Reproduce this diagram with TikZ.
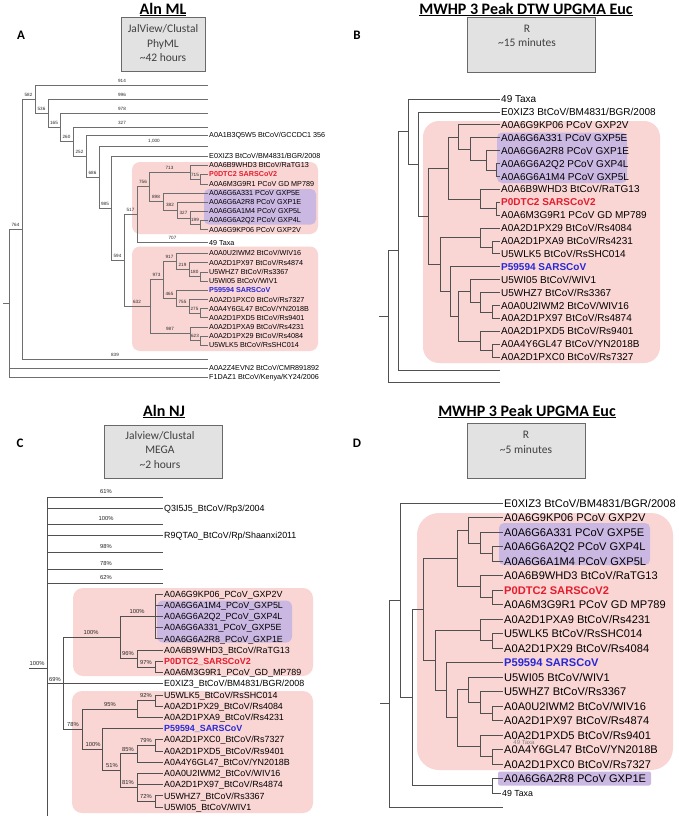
\documentclass[tikz,border=0pt]{standalone}
\usepackage{fontspec}
\setmainfont{Liberation Sans}
\newfontfamily\calib{Carlito}
\definecolor{pinkbg}{RGB}{249,214,212}
\definecolor{purplebg}{RGB}{203,184,226}
\definecolor{sarsred}{RGB}{228,28,45}
\definecolor{sarsblue}{RGB}{40,40,215}
\definecolor{boxfill}{RGB}{226,226,226}
\definecolor{boxdraw}{RGB}{105,105,105}
\definecolor{boxtext}{RGB}{64,64,64}
\definecolor{brlight}{RGB}{110,110,110}
\definecolor{brdark}{RGB}{80,80,80}
\tikzset{
  ttl/.style={font=\calib\bfseries\fontsize{16}{18}\selectfont, inner sep=0pt, text depth=0pt},
  infobox/.style={draw=boxdraw, fill=boxfill, line width=0.8pt},
  boxtxt/.style={font=\calib\fontsize{11.5}{14.5}\selectfont, text=boxtext, align=center, inner sep=0pt},
  plet/.style={font=\calib\bfseries\fontsize{13}{15}\selectfont, inner sep=0pt},
  leafA/.style={anchor=west, inner xsep=1pt, inner ysep=0.3pt, text height=5.2pt, text depth=0pt, font=\fontsize{7.2}{8}\selectfont},
  leafB/.style={anchor=west, inner xsep=1pt, inner ysep=0.3pt, text height=7.2pt, text depth=0pt, font=\fontsize{10}{11}\selectfont},
  leafC/.style={anchor=west, inner xsep=1pt, inner ysep=0.3pt, text height=6.4pt, text depth=0pt, font=\fontsize{8.9}{10}\selectfont},
  leafD/.style={anchor=west, inner xsep=1pt, inner ysep=0.3pt, text height=8pt, text depth=0pt, font=\fontsize{11.1}{12}\selectfont},
  redt/.style={text=sarsred},
  bluet/.style={text=sarsblue},
  bsA/.style={font=\fontsize{4.6}{5}\selectfont, inner sep=0pt, text=black!85},
  bsC/.style={font=\fontsize{5.8}{6}\selectfont, inner sep=0pt, text=black!85},
  brA/.style={draw=brlight, line width=0.55pt},
  brB/.style={draw=brdark, line width=0.75pt},
  brC/.style={draw=brdark, line width=0.7pt},
  pinkbox/.style={fill=pinkbg, draw=none},
  purplebox/.style={fill=purplebg, draw=none},
}
\begin{document}
\begin{tikzpicture}[x=1pt,y=-1pt]
\useasboundingbox (0,0) rectangle (679,819);
\fill[white] (0,0) rectangle (679,819);

% ================= headers =================
\node[ttl] (tA) at (163,8.5) {Aln ML};
\draw[line width=1.1pt] ([yshift=-1.8pt]tA.base west) -- ([yshift=-1.8pt]tA.base east);
\node[ttl] (tB) at (526,8.5) {MWHP 3 Peak DTW UPGMA Euc};
\draw[line width=1.1pt] ([yshift=-1.8pt]tB.base west) -- ([yshift=-1.8pt]tB.base east);
\node[ttl] (tC) at (164,410.5) {Aln NJ};
\draw[line width=1.1pt] ([yshift=-1.8pt]tC.base west) -- ([yshift=-1.8pt]tC.base east);
\node[ttl] (tD) at (527,410.5) {MWHP 3 Peak UPGMA Euc};
\draw[line width=1.1pt] ([yshift=-1.8pt]tD.base west) -- ([yshift=-1.8pt]tD.base east);

\draw[infobox] (121,17) rectangle (205,71);
\node[boxtxt] (xA) at (163,43.5) {JalView/Clustal\\PhyML\\\textasciitilde42 hours};
\draw[infobox] (467,17) rectangle (595,72);
\node[boxtxt] (xB) at (527,36) {R\\\textasciitilde15 minutes};
\draw[infobox] (104,425) rectangle (222,478);
\node[boxtxt] (xC) at (160,450) {Jalview/Clustal\\MEGA\\\textasciitilde2 hours};
\draw[infobox] (467,423) rectangle (585,478);
\node[boxtxt] (xD) at (526,442.5) {R\\\textasciitilde5 minutes};

\node[plet] (pA) at (21,35) {A};
\node[plet] (pB) at (357,35) {B};
\node[plet] (pC) at (20,443) {C};
\node[plet] (pD) at (357,443) {D};

% ================= highlight boxes =================
\fill[pinkbox, rounded corners=8pt] (132,162) rectangle (318,234);
\fill[purplebox, rounded corners=5pt] (204,189) rectangle (316,224.5);
\fill[pinkbox, rounded corners=8pt] (132,246.5) rectangle (318,351);
\fill[pinkbox, rounded corners=16pt] (423,121) rectangle (660,363);
\fill[purplebox, rounded corners=5pt] (497,132.5) rectangle (627,183);
\fill[pinkbox, rounded corners=10pt] (73,588) rectangle (313,676);
\fill[purplebox, rounded corners=6pt] (157,600.5) rectangle (292,642.5);
\fill[pinkbox, rounded corners=10pt] (72,691) rectangle (313,813);
\fill[pinkbox, rounded corners=22pt] (417,513) rectangle (673,770);
\fill[purplebox, rounded corners=5pt] (499,523) rectangle (650,565);
\fill[purplebox, rounded corners=2pt] (498,771.5) rectangle (651,785.5);

% ================= Panel A =================
\coordinate (a914) at (208,85);
\coordinate (a996) at (208,99);
\coordinate (a978) at (208,113);
\coordinate (a327) at (208,127);
\node[leafA] (aGCC) at (208,135) {A0A1B3Q5W5 BtCoV/GCCDC1 356};
\coordinate (a1000) at (208,146);
\node[leafA] (aE0) at (208,156) {E0XIZ3 BtCoV/BM4831/BGR/2008};
\node[leafA] (aWHD3) at (208,165) {A0A6B9WHD3 BtCoV/RaTG13};
\node[leafA,redt] (aP0) at (208,174) {\textbf{P0DTC2 SARSCoV2}};
\node[leafA] (aM3) at (208,184) {A0A6M3G9R1 PCoV GD MP789};
\node[leafA] (aA331) at (208,193) {A0A6G6A331 PCoV GXP5E};
\node[leafA] (aA2R8) at (208,202) {A0A6G6A2R8 PCoV GXP1E};
\node[leafA] (aA1M4) at (208,211) {A0A6G6A1M4 PCoV GXP5L};
\node[leafA] (aA2Q2) at (208,220) {A0A6G6A2Q2 PCoV GXP4L};
\node[leafA] (aKP06) at (208,229.5) {A0A6G9KP06 PCoV GXP2V};
\node[leafA] (a49) at (208,242.5) {49 Taxa};
\node[leafA] (aIWM2) at (208,253) {A0A0U2IWM2 BtCoV/WIV16};
\node[leafA] (aPX97) at (208,262.5) {A0A2D1PX97 BtCoV/Rs4874};
\node[leafA] (aHZ7) at (208,272) {U5WHZ7 BtCoV/Rs3367};
\node[leafA] (aWI05) at (208,281) {U5WI05 BtCoV/WIV1};
\node[leafA,bluet] (aP59) at (208,290) {\textbf{P59594 SARSCoV}};
\node[leafA] (aPXC0) at (208,299.5) {A0A2D1PXC0 BtCoV/Rs7327};
\node[leafA] (aGL47) at (208,308.5) {A0A4Y6GL47 BtCoV/YN2018B};
\node[leafA] (aPXD5) at (208,317.5) {A0A2D1PXD5 BtCoV/Rs9401};
\node[leafA] (aPXA9) at (208,327) {A0A2D1PXA9 BtCoV/Rs4231};
\node[leafA] (aPX29) at (208,336) {A0A2D1PX29 BtCoV/Rs4084};
\node[leafA] (aWLK5) at (208,345) {U5WLK5 BtCoV/RsSHC014};
\coordinate (a839) at (208,359);
\node[leafA] (aEVN2) at (208,368) {A0A2Z4EVN2 BtCoV/CMR891892};
\node[leafA] (aF1) at (208,377) {F1DAZ1 BtCoV/Kenya/KY24/2006};

\coordinate (atick) at (3,303);
\coordinate (aroot) at (9,303);
\coordinate (a764) at (22,229);
\coordinate (a582) at (35,99.1);
\coordinate (a536) at (48,113.1);
\coordinate (a165) at (60,127.3);
\coordinate (a260) at (73,141.5);
\coordinate (a252) at (86,156.1);
\coordinate (a686) at (99,177.2);
\coordinate (a985) at (111,208.3);
\coordinate (a594) at (124,260.6);
\coordinate (a517) at (137,214.6);
\coordinate (a756) at (149,186.7);
\coordinate (a713) at (190,172);
\coordinate (a715) at (200,179);
\coordinate (a898) at (163,201.5);
\coordinate (a382) at (177,209.9);
\coordinate (a327n) at (190,217.9);
\coordinate (a199) at (200,224.75);
\coordinate (a632) at (150,306.7);
\coordinate (a973) at (163,279.7);
\coordinate (a917) at (176,261.2);
\coordinate (a219) at (189,269.5);
\coordinate (a180) at (200,276.5);
\coordinate (a465) at (176,298.1);
\coordinate (a755) at (189,306.2);
\coordinate (a275) at (200,313);
\coordinate (a987) at (190,333.7);
\coordinate (a623) at (200,340.5);

\draw[brA] (atick) -- (aroot);
\foreach \p/\c in {aroot/a764, aroot/aEVN2.west, aroot/aF1.west,
  a764/a582, a764/a839, a582/a914, a582/a536, a536/a996, a536/a165,
  a165/a978, a165/a260, a260/a327, a260/a252, a252/aGCC.west, a252/a686,
  a686/a1000, a686/a985, a985/aE0.west, a985/a594, a594/a517, a594/a632,
  a517/a756, a517/a49.west, a756/a713, a756/a898, a713/aWHD3.west, a713/a715,
  a715/aP0.west, a715/aM3.west, a898/aA331.west, a898/a382,
  a382/aA2R8.west, a382/a327n, a327n/aA1M4.west, a327n/a199,
  a199/aA2Q2.west, a199/aKP06.west, a632/a973, a632/a987,
  a973/a917, a973/a465, a917/aIWM2.west, a917/a219, a219/aPX97.west, a219/a180,
  a180/aHZ7.west, a180/aWI05.west, a465/aP59.west, a465/a755,
  a755/aPXC0.west, a755/a275, a275/aGL47.west, a275/aPXD5.west,
  a987/aPXA9.west, a987/a623, a623/aPX29.west, a623/aWLK5.west}
  \draw[brA] (\p) |- (\c);

\node[bsA] (l914) at (122,80.5) {914};
\node[bsA] (l996) at (122,94.5) {996};
\node[bsA] (l978) at (122,108.5) {978};
\node[bsA] (l327) at (122,122.5) {327};
\node[bsA] (l1000) at (154,141.5) {1,000};
\node[bsA] (l582) at (28.5,94.6) {582};
\node[bsA] (l536) at (41.5,108.6) {536};
\node[bsA] (l165) at (54,122.8) {165};
\node[bsA] (l260) at (66.5,137) {260};
\node[bsA] (l252) at (79.5,151.6) {252};
\node[bsA] (l686) at (92.5,172.7) {686};
\node[bsA] (l985) at (105,203.8) {985};
\node[bsA] (l594) at (117.5,256.1) {594};
\node[bsA] (l517) at (130.5,210.1) {517};
\node[bsA] (l756) at (143,182.2) {756};
\node[bsA] (l713) at (169.5,167.5) {713};
\node[bsA] (l715) at (195,174.5) {715};
\node[bsA] (l898) at (156,197) {898};
\node[bsA] (l382) at (170,205.4) {382};
\node[bsA] (l327b) at (183.5,213.4) {327};
\node[bsA] (l199) at (195,220.25) {199};
\node[bsA] (l707) at (172.5,238) {707};
\node[bsA] (l632) at (137,302.2) {632};
\node[bsA] (l973) at (156.5,275.2) {973};
\node[bsA] (l917) at (169.5,256.7) {917};
\node[bsA] (l219) at (182.5,265) {219};
\node[bsA] (l180) at (194.5,272) {180};
\node[bsA] (l465) at (169.5,293.6) {465};
\node[bsA] (l755) at (182.5,301.7) {755};
\node[bsA] (l275) at (194.5,308.5) {275};
\node[bsA] (l987) at (170,329.2) {987};
\node[bsA] (l623) at (195,336) {623};
\node[bsA] (l839) at (115,354.5) {839};
\node[bsA] (l764) at (15.5,224.5) {764};

% ================= Panel B =================
\node[leafB] (b49) at (500,99) {49 Taxa};
\node[leafB] (bE0) at (500,111.9) {E0XIZ3 BtCoV/BM4831/BGR/2008};
\node[leafB] (bKP06) at (500,124.8) {A0A6G9KP06 PCoV GXP2V};
\node[leafB] (bA331) at (500,137.7) {A0A6G6A331 PCoV GXP5E};
\node[leafB] (bA2R8) at (500,150.6) {A0A6G6A2R8 PCoV GXP1E};
\node[leafB] (bA2Q2) at (500,163.5) {A0A6G6A2Q2 PCoV GXP4L};
\node[leafB] (bA1M4) at (500,176.4) {A0A6G6A1M4 PCoV GXP5L};
\node[leafB] (bWHD3) at (500,189.3) {A0A6B9WHD3 BtCoV/RaTG13};
\node[leafB,redt] (bP0) at (500,202.2) {\textbf{P0DTC2 SARSCoV2}};
\node[leafB] (bM3) at (500,215.1) {A0A6M3G9R1 PCoV GD MP789};
\node[leafB] (bPX29) at (500,228) {A0A2D1PX29 BtCoV/Rs4084};
\node[leafB] (bPXA9) at (500,240.9) {A0A2D1PXA9 BtCoV/Rs4231};
\node[leafB] (bWLK5) at (500,253.8) {U5WLK5 BtCoV/RsSHC014};
\node[leafB,bluet] (bP59) at (500,266.7) {\textbf{P59594 SARSCoV}};
\node[leafB] (bWI05) at (500,279.6) {U5WI05 BtCoV/WIV1};
\node[leafB] (bHZ7) at (500,292.5) {U5WHZ7 BtCoV/Rs3367};
\node[leafB] (bIWM2) at (500,305.4) {A0A0U2IWM2 BtCoV/WIV16};
\node[leafB] (bPX97) at (500,318.3) {A0A2D1PX97 BtCoV/Rs4874};
\node[leafB] (bPXD5) at (500,331.2) {A0A2D1PXD5 BtCoV/Rs9401};
\node[leafB] (bGL47) at (500,344.1) {A0A4Y6GL47 BtCoV/YN2018B};
\node[leafB] (bPXC0) at (500,357) {A0A2D1PXC0 BtCoV/Rs7327};
\coordinate (bx1) at (500,369.9);
\coordinate (bx2) at (500,382.8);

\coordinate (btick) at (379,316.8);
\coordinate (broot) at (388,316.8);
\coordinate (bn398) at (398,250.8);
\coordinate (bn408) at (408,131.6);
\coordinate (bn418) at (418,164.1);
\coordinate (bn428) at (428,216.3);
\coordinate (bn448) at (448,168.0);
\coordinate (bc4) at (458,136.9);
\coordinate (bc3) at (470,149.0);
\coordinate (bc2) at (486,160.3);
\coordinate (bc1) at (496,170.0);
\coordinate (bc6) at (480,199.0);
\coordinate (bc5) at (496,208.7);
\coordinate (bh) at (440,264.5);
\coordinate (bd2) at (480,237.7);
\coordinate (bd1) at (492,247.4);
\coordinate (bg) at (450,291.3);
\coordinate (be4) at (458,315.9);
\coordinate (be3) at (470,290.9);
\coordinate (be2) at (480,302.2);
\coordinate (be1) at (492,311.9);
\coordinate (bf2) at (480,340.9);
\coordinate (bf1) at (492,350.6);

\draw[brB] (btick) -- (broot);
\foreach \p/\c in {broot/bn398, broot/bx2, bn398/bn408, bn398/bx1,
  bn408/b49.west, bn408/bn418, bn418/bE0.west, bn418/bn428,
  bn428/bn448, bn428/bh, bn448/bc4, bn448/bc6,
  bc4/bKP06.west, bc4/bc3, bc3/bA331.west, bc3/bc2, bc2/bA2R8.west, bc2/bc1,
  bc1/bA2Q2.west, bc1/bA1M4.west, bc6/bWHD3.west, bc6/bc5, bc5/bP0.west, bc5/bM3.west,
  bh/bd2, bh/bg, bd2/bPX29.west, bd2/bd1, bd1/bPXA9.west, bd1/bWLK5.west,
  bg/bP59.west, bg/be4, be4/be3, be4/bf2, be3/bWI05.west, be3/be2,
  be2/bHZ7.west, be2/be1, be1/bIWM2.west, be1/bPX97.west,
  bf2/bPXD5.west, bf2/bf1, bf1/bGL47.west, bf1/bPXC0.west}
  \draw[brB] (\p) |- (\c);

% ================= Panel C =================
\coordinate (c61) at (163,497);
\node[leafC] (cQ3) at (163,508) {Q3I5J5\_BtCoV/Rp3/2004};
\coordinate (c100t) at (163,524);
\node[leafC] (cR9) at (163,535) {R9QTA0\_BtCoV/Rp/Shaanxi2011};
\coordinate (c98) at (163,552);
\coordinate (c78t) at (163,569);
\coordinate (c62) at (163,583);
\node[leafC] (cKP06) at (163,594.0) {A0A6G9KP06\_PCoV\_GXP2V};
\node[leafC] (cA1M4) at (163,605.2) {A0A6G6A1M4\_PCoV\_GXP5L};
\node[leafC] (cA2Q2) at (163,616.4) {A0A6G6A2Q2\_PCoV\_GXP4L};
\node[leafC] (cA331) at (163,627.6) {A0A6G6A331\_PCoV\_GXP5E};
\node[leafC] (cA2R8) at (163,638.8) {A0A6G6A2R8\_PCoV\_GXP1E};
\node[leafC] (cWHD3) at (163,650.1) {A0A6B9WHD3\_BtCoV/RaTG13};
\node[leafC,redt] (cP0) at (163,661.3) {\textbf{P0DTC2\_SARSCoV2}};
\node[leafC] (cM3) at (163,672.5) {A0A6M3G9R1\_PCoV\_GD\_MP789};
\node[leafC] (cE0) at (163,683.7) {E0XIZ3\_BtCoV/BM4831/BGR/2008};
\node[leafC] (cWLK5) at (163,694.9) {U5WLK5\_BtCoV/RsSHC014};
\node[leafC] (cPX29) at (163,706.1) {A0A2D1PX29\_BtCoV/Rs4084};
\node[leafC] (cPXA9) at (163,717.3) {A0A2D1PXA9\_BtCoV/Rs4231};
\node[leafC,bluet] (cP59) at (163,728.5) {\textbf{P59594\_SARSCoV}};
\node[leafC] (cPXC0) at (163,739.7) {A0A2D1PXC0\_BtCoV/Rs7327};
\node[leafC] (cPXD5) at (163,750.9) {A0A2D1PXD5\_BtCoV/Rs9401};
\node[leafC] (cGL47) at (163,762.2) {A0A4Y6GL47\_BtCoV/YN2018B};
\node[leafC] (cIWM2) at (163,773.4) {A0A0U2IWM2\_BtCoV/WIV16};
\node[leafC] (cPX97) at (163,784.6) {A0A2D1PX97\_BtCoV/Rs4874};
\node[leafC] (cHZ7) at (163,795.8) {U5WHZ7\_BtCoV/Rs3367};
\node[leafC] (cWI05) at (163,807.0) {U5WI05\_BtCoV/WIV1};

\coordinate (ctick) at (29,668);
\coordinate (croot) at (47,668);
\coordinate (cbot) at (47,816);
\coordinate (c69) at (63,683.7);
\coordinate (c100a) at (120,637.4);
\coordinate (cgxp) at (155,616.4);
\coordinate (c96) at (137,658.5);
\coordinate (c97) at (155,666.9);
\coordinate (c78n) at (82,729.2);
\coordinate (c95) at (137,708.9);
\coordinate (c92) at (155,700.5);
\coordinate (c100b) at (102,749.5);
\coordinate (c51) at (120,770.6);
\coordinate (c85) at (137,753.7);
\coordinate (c79) at (155,745.3);
\coordinate (c81) at (137,787.4);
\coordinate (c72) at (155,801.4);

\draw[brC] (ctick) -- (croot);
\draw[brC] (croot) -- (cbot);
\foreach \p/\c in {croot/c61, croot/cQ3.west, croot/c100t, croot/cR9.west, croot/c98,
  croot/c78t, croot/c62, croot/c69, c69/c100a, c69/c78n, c69/cE0.west,
  c100a/cgxp, c100a/c96, cgxp/cKP06.west, cgxp/cA1M4.west, cgxp/cA2Q2.west,
  cgxp/cA331.west, cgxp/cA2R8.west, c96/cWHD3.west, c96/c97, c97/cP0.west, c97/cM3.west,
  c78n/c95, c78n/c100b, c95/c92, c95/cPXA9.west, c92/cWLK5.west, c92/cPX29.west,
  c100b/cP59.west, c100b/c51, c51/c85, c51/c81, c85/c79, c85/cGL47.west,
  c79/cPXC0.west, c79/cPXD5.west, c81/cIWM2.west, c81/cPX97.west, c81/c72,
  c72/cHZ7.west, c72/cWI05.west}
  \draw[brC] (\p) |- (\c);

\node[bsC] (k61) at (106,491) {61\%};
\node[bsC] (k100t) at (106,518) {100\%};
\node[bsC] (k98) at (106,546) {98\%};
\node[bsC] (k78t) at (106,563) {78\%};
\node[bsC] (k62) at (106,577) {62\%};
\node[bsC] (kroot) at (37,663.3) {100\%};
\node[bsC] (k69) at (55,679) {69\%};
\node[bsC] (k100a) at (91,632.7) {100\%};
\node[bsC] (kgxp) at (137,611.7) {100\%};
\node[bsC] (k96) at (128,653.8) {96\%};
\node[bsC] (k97) at (146,662.2) {97\%};
\node[bsC] (k92) at (146,695.8) {92\%};
\node[bsC] (k95) at (110,704.2) {95\%};
\node[bsC] (k78) at (73,724.5) {78\%};
\node[bsC] (k100b) at (93,744.8) {100\%};
\node[bsC] (k51) at (112,765.9) {51\%};
\node[bsC] (k85) at (128,749) {85\%};
\node[bsC] (k79) at (146,740.6) {79\%};
\node[bsC] (k81) at (128,782.7) {81\%};
\node[bsC] (k72) at (146,796.7) {72\%};

% ================= Panel D =================
\node[leafD] (dE0) at (503,503) {E0XIZ3 BtCoV/BM4831/BGR/2008};
\node[leafD] (dKP06) at (503,517.5) {A0A6G9KP06 PCoV GXP2V};
\node[leafD] (dA331) at (503,532) {A0A6G6A331 PCoV GXP5E};
\node[leafD] (dA2Q2) at (503,546.5) {A0A6G6A2Q2 PCoV GXP4L};
\node[leafD] (dA1M4) at (503,561) {A0A6G6A1M4 PCoV GXP5L};
\node[leafD] (dWHD3) at (503,575.5) {A0A6B9WHD3 BtCoV/RaTG13};
\node[leafD,redt] (dP0) at (503,590) {\textbf{P0DTC2 SARSCoV2}};
\node[leafD] (dM3) at (503,604.5) {A0A6M3G9R1 PCoV GD MP789};
\node[leafD] (dPXA9) at (503,619) {A0A2D1PXA9 BtCoV/Rs4231};
\node[leafD] (dWLK5) at (503,633.5) {U5WLK5 BtCoV/RsSHC014};
\node[leafD] (dPX29) at (503,648) {A0A2D1PX29 BtCoV/Rs4084};
\node[leafD,bluet] (dP59) at (503,662.5) {\textbf{P59594 SARSCoV}};
\node[leafD] (dWI05) at (503,677) {U5WI05 BtCoV/WIV1};
\node[leafD] (dHZ7) at (503,691.5) {U5WHZ7 BtCoV/Rs3367};
\node[leafD] (dIWM2) at (503,706) {A0A0U2IWM2 BtCoV/WIV16};
\node[leafD] (dPX97) at (503,720.5) {A0A2D1PX97 BtCoV/Rs4874};
\node[leafD] (dPXD5) at (503,735) {A0A2D1PXD5 BtCoV/Rs9401};
\node[leafD] (dGL47) at (503,749.5) {A0A4Y6GL47 BtCoV/YN2018B};
\node[leafD] (dPXC0) at (503,764) {A0A2D1PXC0 BtCoV/Rs7327};
\node[leafD] (dA2R8) at (503,778.5) {A0A6G6A2R8 PCoV GXP1E};
\node[leafD, font=\fontsize{8.8}{10}\selectfont, text height=6.4pt] (d49) at (501,793) {49 Taxa};
\coordinate (dlast) at (503,807);
\node[font=\fontsize{6}{7}\selectfont, text=black!50, inner sep=0pt] (dsmall) at (524,742) {49 Taxa};

\coordinate (dtick) at (380,703.6);
\coordinate (droot) at (389,703.6);
\coordinate (dn400) at (400,600.25);
\coordinate (dn412) at (412,697.5);
\coordinate (dpair) at (492,785.75);
\coordinate (dbig) at (423,609.2);
\coordinate (dc7) at (457,558.3);
\coordinate (dc3) at (468,530.2);
\coordinate (dc2) at (480,542.9);
\coordinate (dc1) at (492,553.75);
\coordinate (dc6) at (480,586.4);
\coordinate (dc5) at (492,597.25);
\coordinate (dh) at (435,660.0);
\coordinate (dd2) at (480,629.9);
\coordinate (dd1) at (492,640.75);
\coordinate (dg) at (446,690.2);
\coordinate (de4) at (457,717.8);
\coordinate (de3) at (468,689.7);
\coordinate (de2) at (480,702.4);
\coordinate (de1) at (492,713.25);
\coordinate (df2) at (480,745.9);
\coordinate (df1) at (492,756.75);

\draw[brB] (dtick) -- (droot);
\foreach \p/\c in {droot/dn400, droot/dlast, dn400/dE0.west, dn400/dn412,
  dn412/dbig, dn412/dpair, dpair/dA2R8.west, dpair/d49.west,
  dbig/dc7, dbig/dh, dc7/dc3, dc7/dc6, dc3/dKP06.west, dc3/dc2,
  dc2/dA331.west, dc2/dc1, dc1/dA2Q2.west, dc1/dA1M4.west,
  dc6/dWHD3.west, dc6/dc5, dc5/dP0.west, dc5/dM3.west,
  dh/dd2, dh/dg, dd2/dPXA9.west, dd2/dd1, dd1/dWLK5.west, dd1/dPX29.west,
  dg/dP59.west, dg/de4, de4/de3, de4/df2, de3/dWI05.west, de3/de2,
  de2/dHZ7.west, de2/de1, de1/dIWM2.west, de1/dPX97.west,
  df2/dPXD5.west, df2/df1, df1/dGL47.west, df1/dPXC0.west}
  \draw[brB] (\p) |- (\c);

\end{tikzpicture}
\end{document}
